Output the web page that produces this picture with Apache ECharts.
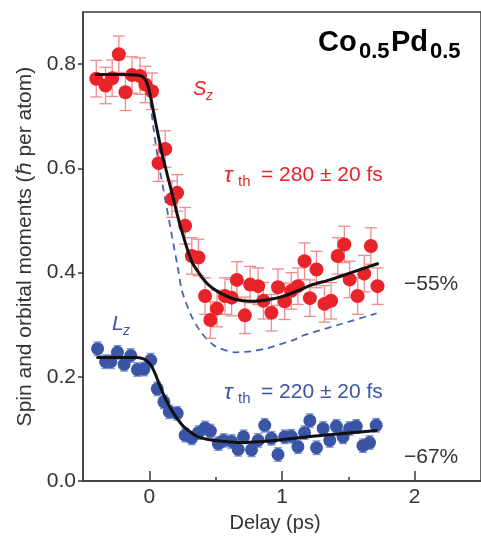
<!DOCTYPE html>
<html><head><meta charset="utf-8">
<script src="https://cdn.jsdelivr.net/npm/echarts@6/dist/echarts.min.js"></script>
<style>html,body{margin:0;padding:0;background:#fff}#c{width:481px;height:538px}</style>
</head><body><div id="c"></div>
<script>
// ---- data ----
const redX = [-0.40,-0.33,-0.28,-0.23,-0.18,-0.13,-0.07,-0.03,0.02,0.07,0.12,0.17,0.21,0.27,0.32,0.37,0.42,0.46,0.51,0.57,0.62,0.66,0.72,0.76,0.82,0.86,0.92,0.97,1.02,1.07,1.12,1.17,1.21,1.26,1.32,1.37,1.42,1.47,1.51,1.57,1.62,1.67,1.72];
const redY = [0.772,0.759,0.773,0.819,0.746,0.779,0.777,0.761,0.748,0.610,0.637,0.541,0.553,0.490,0.432,0.429,0.355,0.309,0.331,0.355,0.352,0.386,0.318,0.377,0.374,0.346,0.323,0.372,0.345,0.365,0.374,0.422,0.351,0.406,0.340,0.346,0.432,0.454,0.387,0.355,0.398,0.451,0.374];
const redErr = 0.035;
const blueX = [-0.39,-0.33,-0.29,-0.24,-0.19,-0.14,-0.09,-0.04,0.01,0.06,0.11,0.15,0.21,0.27,0.32,0.37,0.42,0.46,0.52,0.56,0.62,0.67,0.71,0.77,0.82,0.87,0.92,0.97,1.02,1.07,1.12,1.17,1.21,1.26,1.31,1.36,1.41,1.46,1.51,1.56,1.61,1.66,1.71];
const blueY = [0.254,0.229,0.229,0.247,0.224,0.241,0.214,0.215,0.232,0.177,0.152,0.133,0.130,0.088,0.083,0.093,0.102,0.096,0.072,0.078,0.076,0.061,0.085,0.060,0.078,0.107,0.082,0.051,0.085,0.086,0.066,0.093,0.116,0.064,0.101,0.078,0.105,0.085,0.101,0.105,0.068,0.074,0.107];
const blueErr = 0.013;
const redFitX = [-0.40,-0.20,-0.10,-0.06,-0.035,-0.015,0.0,0.02,0.046,0.096,0.158,0.233,0.32,0.394,0.444,0.519,0.643,0.767,0.89,1.016,1.116,1.22,1.36,1.50,1.72];
const redFitY = [0.780,0.780,0.779,0.777,0.772,0.762,0.748,0.724,0.690,0.628,0.565,0.490,0.421,0.392,0.377,0.363,0.349,0.345,0.348,0.355,0.365,0.376,0.386,0.398,0.417];
const dashX = [-0.40,-0.10,-0.05,-0.025,0.0,0.034,0.071,0.12,0.17,0.22,0.245,0.32,0.394,0.494,0.643,0.767,0.89,1.09,1.166,1.414,1.713];
const dashY = [0.779,0.778,0.774,0.763,0.740,0.672,0.609,0.540,0.471,0.402,0.365,0.315,0.284,0.259,0.247,0.249,0.255,0.271,0.280,0.299,0.322];
const blueFitX = [-0.39,-0.10,-0.05,-0.02,0.01,0.03,0.046,0.084,0.133,0.183,0.257,0.357,0.444,0.569,0.69,0.94,1.19,1.44,1.71];
const blueFitY = [0.237,0.237,0.235,0.231,0.223,0.214,0.205,0.180,0.152,0.130,0.105,0.086,0.080,0.076,0.074,0.078,0.085,0.091,0.097];
const xMajorTicks = [0, 1, 2];
const xMinorTicks = [0.5, 1.5];
const yTicks = [0, 0.2, 0.4, 0.6, 0.8];

// ---- chart ----
const FONT = '"Liberation Sans", Arial, Helvetica, sans-serif';
const AX = '#3a3a3a';
const RED = '#e8232a', RED_EB = '#f08a8c', BLUE = '#3a54a6', BLUE_EB = '#7f93d3';
const zip = (a, b) => a.map((v, i) => [v, b[i]]);
const withErr = (a, b, e) => a.map((v, i) => [v, b[i], e]);

function errBar(capHalf, color, w) {
  return function (params, api) {
    const x = api.value(0), y = api.value(1), e = api.value(2);
    const t = api.coord([x, y + e]), b = api.coord([x, y - e]);
    const st = { stroke: color, lineWidth: w };
    return { type: 'group', children: [
      { type: 'line', shape: { x1: t[0], y1: t[1], x2: b[0], y2: b[1] }, style: st },
      { type: 'line', shape: { x1: t[0] - capHalf, y1: t[1], x2: t[0] + capHalf, y2: t[1] }, style: st },
      { type: 'line', shape: { x1: b[0] - capHalf, y1: b[1], x2: b[0] + capHalf, y2: b[1] }, style: st }
    ]};
  };
}

const chart = echarts.init(document.getElementById('c'));
const baseX = { type: 'value', min: -0.5, max: 2.5, gridIndex: 0, splitLine: { show: false } };
const fitLine = (xs, ys) => ({ type: 'line', data: zip(xs, ys), smooth: 0.2, showSymbol: false, symbol: 'none',
  lineStyle: { color: '#111', width: 3, join: 'round', cap: 'round' }, z: 4 });
chart.setOption({
  animation: false,
  grid: { left: 83, top: 12, width: 402, height: 479, show: true, borderColor: AX, borderWidth: 1.5, backgroundColor: 'transparent' },
  xAxis: [
    Object.assign({}, baseX, {
      position: 'bottom',
      name: 'Delay (ps)', nameLocation: 'middle', nameGap: 21,
      nameTextStyle: { fontFamily: FONT, fontSize: 20, color: '#333', padding: [0, 14, 0, 0] },
      axisLine: { show: true, onZero: false, lineStyle: { color: AX, width: 1.5 } },
      axisTick: { show: true, inside: true, length: 10, lineStyle: { color: AX, width: 1.5 }, customValues: xMajorTicks },
      axisLabel: { fontFamily: FONT, fontSize: 21, color: '#333', margin: 6, customValues: xMajorTicks, formatter: v => String(v) }
    }),
    Object.assign({}, baseX, {
      position: 'bottom',
      axisLine: { show: false, onZero: false },
      axisTick: { show: true, inside: true, length: 4, lineStyle: { color: AX, width: 1.5 }, customValues: xMinorTicks },
      axisLabel: { show: false }
    })
  ],
  yAxis: {
    type: 'value', min: 0, max: 0.9,
    name: 'Spin and orbital moments (\u210F per atom)', nameLocation: 'middle', nameGap: 47,
    nameTextStyle: { fontFamily: FONT, fontSize: 21, color: '#333' },
    axisLine: { show: true, onZero: false, lineStyle: { color: AX, width: 1.5 } },
    axisTick: { show: true, inside: false, length: 5, lineStyle: { color: AX, width: 1.5 }, customValues: yTicks },
    axisLabel: { fontFamily: FONT, fontSize: 21, color: '#333', margin: 7, customValues: yTicks, formatter: v => v.toFixed(1) },
    splitLine: { show: false }
  },
  series: [
    { type: 'line', data: zip(dashX, dashY), smooth: 0.2, showSymbol: false, symbol: 'none',
      lineStyle: { color: '#4a63b8', width: 1.8, type: [7, 5] }, z: 1 },
    { type: 'custom', data: withErr(redX, redY, redErr), encode: { x: 0, y: 1 }, renderItem: errBar(6, RED_EB, 1.3), z: 2 },
    { type: 'custom', data: withErr(blueX, blueY, blueErr), encode: { x: 0, y: 1 }, renderItem: errBar(4, BLUE_EB, 1.3), z: 2 },
    { type: 'scatter', data: zip(redX, redY), symbolSize: 14, itemStyle: { color: RED, opacity: 1 }, z: 3 },
    { type: 'scatter', data: zip(blueX, blueY), symbolSize: 13, itemStyle: { color: BLUE, opacity: 1 }, z: 3 },
    fitLine(redFitX, redFitY),
    fitLine(blueFitX, blueFitY)
  ],
  graphic: [
    { type: 'text', x: 318, y: 43, style: { text: 'Co', font: 'bold 29px ' + FONT, fill: '#000', align: 'left', verticalAlign: 'middle' } },
    { type: 'text', x: 359, y: 52, style: { text: '0.5', font: 'bold 22px ' + FONT, fill: '#000', align: 'left', verticalAlign: 'middle' } },
    { type: 'text', x: 391, y: 43, style: { text: 'Pd', font: 'bold 29px ' + FONT, fill: '#000', align: 'left', verticalAlign: 'middle' } },
    { type: 'text', x: 430, y: 52, style: { text: '0.5', font: 'bold 22px ' + FONT, fill: '#000', align: 'left', verticalAlign: 'middle' } },

    { type: 'text', x: 193, y: 89, style: { text: 'S', font: 'italic 20px ' + FONT, fill: RED, align: 'left', verticalAlign: 'middle' } },
    { type: 'text', x: 206, y: 96, style: { text: 'z', font: 'italic 14px ' + FONT, fill: RED, align: 'left', verticalAlign: 'middle' } },
    { type: 'text', x: 112, y: 324, style: { text: 'L', font: 'italic 21px ' + FONT, fill: BLUE, align: 'left', verticalAlign: 'middle' } },
    { type: 'text', x: 123, y: 331, style: { text: 'z', font: 'italic 14px ' + FONT, fill: BLUE, align: 'left', verticalAlign: 'middle' } },

    { type: 'text', x: 224, y: 176, style: { text: '\u03C4', font: 'italic 23px ' + FONT, fill: RED, align: 'left', verticalAlign: 'middle' } },
    { type: 'text', x: 238, y: 182, style: { text: 'th', font: '15px ' + FONT, fill: RED, align: 'left', verticalAlign: 'middle' } },
    { type: 'text', x: 261, y: 175, style: { text: '= 280 \u00B1 20 fs', font: '21px ' + FONT, fill: RED, align: 'left', verticalAlign: 'middle' } },

    { type: 'text', x: 224, y: 393, style: { text: '\u03C4', font: 'italic 23px ' + FONT, fill: BLUE, align: 'left', verticalAlign: 'middle' } },
    { type: 'text', x: 238, y: 399, style: { text: 'th', font: '15px ' + FONT, fill: BLUE, align: 'left', verticalAlign: 'middle' } },
    { type: 'text', x: 261, y: 392, style: { text: '= 220 \u00B1 20 fs', font: '21px ' + FONT, fill: BLUE, align: 'left', verticalAlign: 'middle' } },

    { type: 'text', x: 404, y: 284, style: { text: '\u221255%', font: '21px ' + FONT, fill: '#333', align: 'left', verticalAlign: 'middle' } },
    { type: 'text', x: 404, y: 457, style: { text: '\u221267%', font: '21px ' + FONT, fill: '#333', align: 'left', verticalAlign: 'middle' } }
  ]
});
</script>
</body></html>
